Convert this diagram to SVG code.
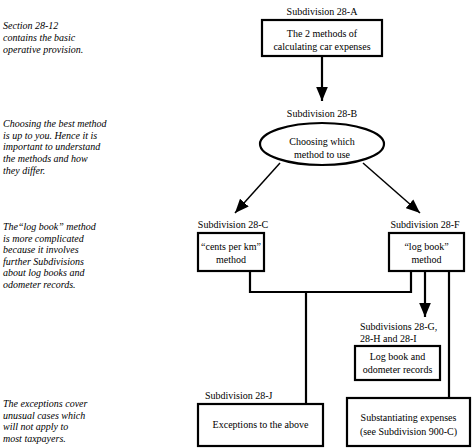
<svg xmlns="http://www.w3.org/2000/svg" width="473" height="448" viewBox="0 0 473 448" font-family="'Liberation Serif', 'DejaVu Serif', serif" font-size="10">
  <style>
    text { font-family: "Liberation Serif", "DejaVu Serif", serif; font-size: 10px; fill: #000; }
    .note { font-style: italic; }
    .c { text-anchor: middle; }
    .box { fill: #fff; stroke: #000; stroke-width: 2.2; }
    .thick { fill: none; stroke: #000; stroke-width: 2.2; }
    .thin { fill: none; stroke: #000; stroke-width: 1.5; }
  </style>
  <defs>
    <marker id="arrow" markerUnits="userSpaceOnUse" markerWidth="14" markerHeight="12" refX="12" refY="5" orient="auto" viewBox="0 0 12 10">
      <path d="M0,0 L12,5 L0,10 Z" fill="#000"/>
    </marker>
  </defs>
  <rect width="473" height="448" fill="#fff"/>

  <g id="notes">
    <text class="note" x="3" y="29">Section 28-12</text>
    <text class="note" x="3" y="41">contains the basic</text>
    <text class="note" x="3" y="53">operative provision.</text>

    <text class="note" x="3" y="127">Choosing the best method</text>
    <text class="note" x="3" y="138.7">is up to you. Hence it is</text>
    <text class="note" x="3" y="150.4">important to understand</text>
    <text class="note" x="3" y="162.1">the methods and how</text>
    <text class="note" x="3" y="173.8">they differ.</text>

    <text class="note" x="3" y="230">The“log book” method</text>
    <text class="note" x="3" y="241.5">is more complicated</text>
    <text class="note" x="3" y="253">because it involves</text>
    <text class="note" x="3" y="264.5">further Subdivisions</text>
    <text class="note" x="3" y="276">about log books and</text>
    <text class="note" x="3" y="287.5">odometer records.</text>

    <text class="note" x="3" y="407">The exceptions cover</text>
    <text class="note" x="3" y="418.5">unusual cases which</text>
    <text class="note" x="3" y="430">will not apply to</text>
    <text class="note" x="3" y="441.5">most taxpayers.</text>
  </g>

  <g id="connectors">
    <line class="thick" x1="322" y1="56" x2="322" y2="101" marker-end="url(#arrow)"/>
    <line class="thin" x1="280" y1="163" x2="235" y2="213" marker-end="url(#arrow)"/>
    <line class="thin" x1="363" y1="163" x2="420" y2="213" marker-end="url(#arrow)"/>
    <polyline class="thick" points="250,271 250,292 411,292 411,271"/>
    <line class="thick" x1="306" y1="292" x2="306" y2="404"/>
    <line class="thick" x1="425" y1="271" x2="425" y2="317" marker-end="url(#arrow)"/>
    <line class="thick" x1="449" y1="271" x2="449" y2="398"/>
  </g>

  <g id="node-28A">
    <text class="c" x="322" y="15">Subdivision 28-A</text>
    <rect class="box" x="262" y="20" width="120" height="36"/>
    <text class="c" x="322" y="37">The 2 methods of</text>
    <text class="c" x="322" y="50">calculating car expenses</text>
  </g>

  <g id="node-28B">
    <text class="c" x="322" y="117">Subdivision 28-B</text>
    <ellipse class="box" cx="322" cy="144" rx="62" ry="21"/>
    <text class="c" x="322" y="145">Choosing which</text>
    <text class="c" x="322" y="158">method to use</text>
  </g>

  <g id="node-28C">
    <text class="c" x="233" y="228">Subdivision 28-C</text>
    <rect class="box" x="198" y="233" width="66" height="38"/>
    <text class="c" x="231" y="250">“cents per km”</text>
    <text class="c" x="231" y="263">method</text>
  </g>

  <g id="node-28F">
    <text class="c" x="425" y="228">Subdivision 28-F</text>
    <rect class="box" x="389" y="233" width="75" height="38"/>
    <text class="c" x="426.5" y="250">“log book”</text>
    <text class="c" x="426.5" y="263">method</text>
  </g>

  <g id="node-28GHI">
    <text x="360" y="330">Subdivisions 28-G,</text>
    <text x="360" y="342">28-H and 28-I</text>
    <rect class="box" x="355" y="346" width="85" height="34"/>
    <text class="c" x="397.5" y="360">Log book and</text>
    <text class="c" x="397.5" y="373">odometer records</text>
  </g>

  <g id="node-28J">
    <text x="205" y="399">Subdivision 28-J</text>
    <rect class="box" x="198" y="404" width="125" height="42"/>
    <text class="c" x="260.5" y="428">Exceptions to the above</text>
  </g>

  <g id="node-900C">
    <rect class="box" x="347" y="398" width="123" height="48"/>
    <text class="c" x="408.5" y="421">Substantiating expenses</text>
    <text class="c" x="408.5" y="435">(see Subdivision 900-C)</text>
  </g>
</svg>
